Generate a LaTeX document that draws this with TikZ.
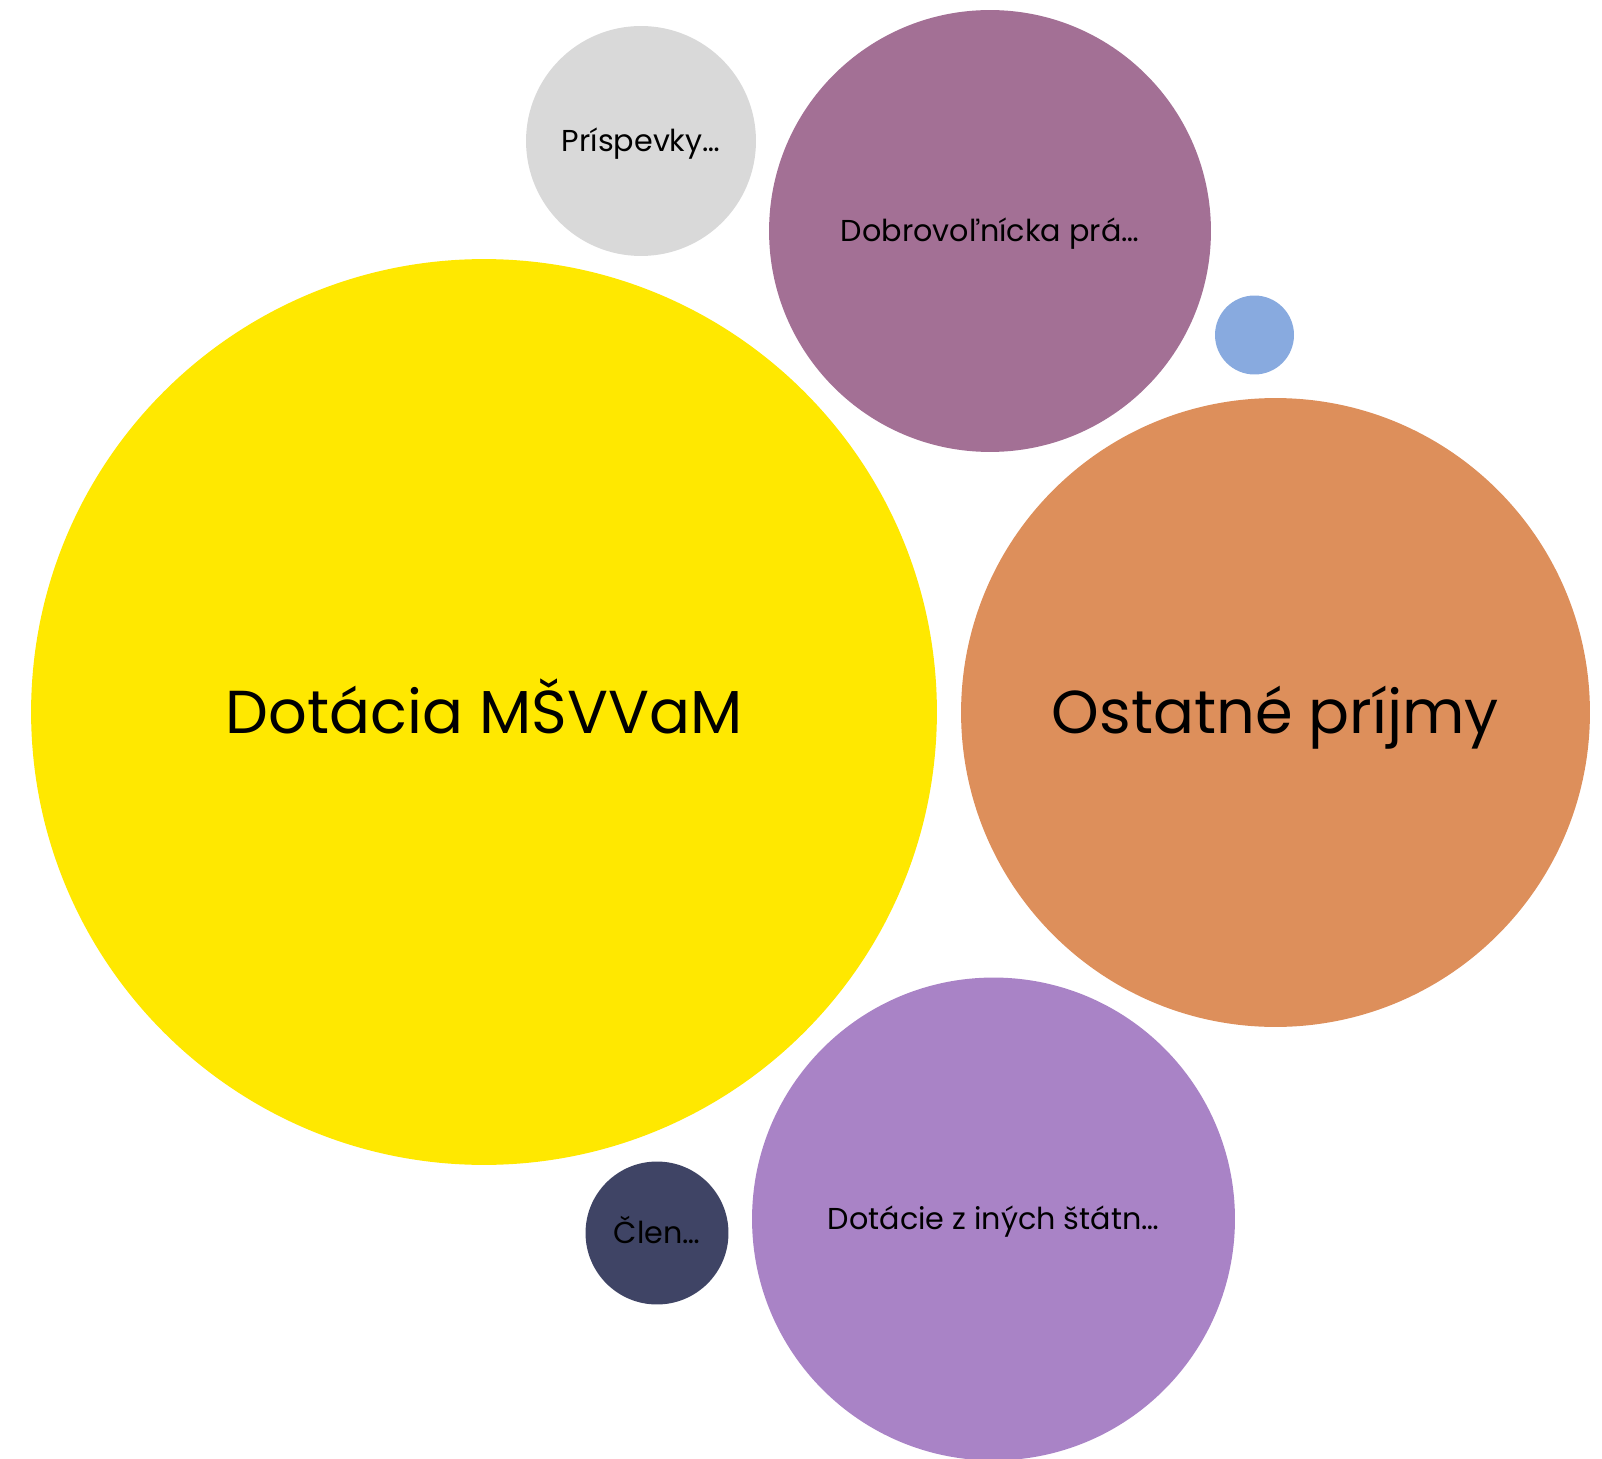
\documentclass[tikz,border=0pt]{standalone}
\usepackage{fontspec}
\setmainfont{Poppins}
\usepackage{xcolor}
\usepackage{tikz}
\usetikzlibrary{shapes,positioning,calc}

\definecolor{dotyellow}{HTML}{FFE800}
\definecolor{ostorange}{HTML}{DD8F5B}
\definecolor{dobmauve}{HTML}{A37095}
\definecolor{prigray}{HTML}{D9D9D9}
\definecolor{smallblue}{HTML}{88AADF}
\definecolor{inlavender}{HTML}{A983C6}
\definecolor{clennavy}{HTML}{3F4465}

\begin{document}
\begin{tikzpicture}[x=0.02cm, y=-0.02cm,
    bubble/.style={circle, inner sep=0pt, text=black},
    biglbl/.style={font=\fontsize{34.5}{40}\selectfont, text height=24.1pt, text depth=0pt},
    smalllbl/.style={font=\fontsize{17.2}{20}\selectfont, text height=12pt, text depth=0pt}]
    % Frame
    \useasboundingbox (0,0) rectangle (1602,1459);

    % Big bubbles
    \node[bubble, biglbl, fill=dotyellow, minimum size=18.12cm] (msvvam) at (484,712) {Dotácia MŠVVaM};
    \node[bubble, biglbl, fill=ostorange, minimum size=12.58cm] (ostatne) at (1275.5,712.5) {Ostatné príjmy};

    % Medium bubbles
    \node[bubble, smalllbl, fill=dobmauve, minimum size=8.84cm] (dobrovol) at (990,231) {Dobrovoľnícka prá…};
    \node[bubble, smalllbl, fill=inlavender, minimum size=9.66cm] (statne) at (993.5,1219) {Dotácie z iných štátn…};

    % Small bubbles
    \node[bubble, smalllbl, fill=prigray, minimum size=4.6cm] (prispevky) at (641,141) {Príspevky…};
    \node[bubble, smalllbl, fill=clennavy, minimum size=2.86cm] (clen) at (657,1233) {Člen…};
    \node[bubble, fill=smallblue, minimum size=1.58cm] (ine) at (1254.5,335) {};
\end{tikzpicture}
\end{document}
